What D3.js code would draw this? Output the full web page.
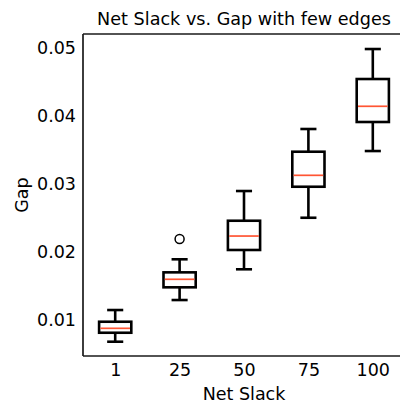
<!DOCTYPE html>
<html>
<head>
<meta charset="utf-8">
<script src="https://cdn.jsdelivr.net/npm/d3@7"></script>
<style>
  html, body { margin: 0; padding: 0; background: #fff; }
  svg { display: block; font-family: "DejaVu Sans", sans-serif; }
</style>
</head>
<body>
<svg id="chart" width="400" height="405"></svg>
<script>
// Box statistics per Net Slack setting
const categories = ["1", "25", "50", "75", "100"];
const whiskerLow  = [0.00681, 0.01294, 0.01746, 0.02504, 0.03485];
const q1          = [0.00813, 0.01481, 0.02030, 0.02960, 0.03912];
const medians     = [0.00878, 0.01599, 0.02235, 0.03128, 0.04143];
const q3          = [0.00975, 0.01701, 0.02460, 0.03475, 0.04544];
const whiskerHigh = [0.01147, 0.01893, 0.02897, 0.03809, 0.04985];
const fliers      = [[], [0.02191], [], [], []];
const yTicks = [0.01, 0.02, 0.03, 0.04, 0.05];

const svg = d3.select("#chart");
const plotLeft = 83, plotRight = 405, plotTop = 34, plotBottom = 356;

// positions 1..5 with half-unit padding on each side
const x = d3.scaleLinear().domain([0.5, 5.5]).range([plotLeft, plotRight]);
const y = d3.scaleLinear().domain([0.00471, 0.05206]).range([plotBottom, plotTop]);
const unit = x(2) - x(1);
const boxW = unit * 0.5;
const capW = boxW * 0.5;

const boxes = categories.map((c, i) => ({
  c, pos: i + 1,
  lo: whiskerLow[i], q1: q1[i], med: medians[i], q3: q3[i], hi: whiskerHigh[i],
  fl: fliers[i]
}));

const g = svg.append("g");
const b = g.selectAll("g.box").data(boxes).join("g").attr("class", "box");
const sw = 2.6;

// whiskers
b.append("line").attr("x1", d => x(d.pos)).attr("x2", d => x(d.pos))
  .attr("y1", d => y(d.q3)).attr("y2", d => y(d.hi))
  .attr("stroke", "#000").attr("stroke-width", sw);
b.append("line").attr("x1", d => x(d.pos)).attr("x2", d => x(d.pos))
  .attr("y1", d => y(d.q1)).attr("y2", d => y(d.lo))
  .attr("stroke", "#000").attr("stroke-width", sw);
// caps
b.append("line").attr("x1", d => x(d.pos) - capW / 2).attr("x2", d => x(d.pos) + capW / 2)
  .attr("y1", d => y(d.hi)).attr("y2", d => y(d.hi))
  .attr("stroke", "#000").attr("stroke-width", sw);
b.append("line").attr("x1", d => x(d.pos) - capW / 2).attr("x2", d => x(d.pos) + capW / 2)
  .attr("y1", d => y(d.lo)).attr("y2", d => y(d.lo))
  .attr("stroke", "#000").attr("stroke-width", sw);
// box
b.append("rect").attr("x", d => x(d.pos) - boxW / 2).attr("width", boxW)
  .attr("y", d => y(d.q3)).attr("height", d => y(d.q1) - y(d.q3))
  .attr("fill", "none").attr("stroke", "#000").attr("stroke-width", sw);
// median
b.append("line").attr("x1", d => x(d.pos) - boxW / 2 + 1.3).attr("x2", d => x(d.pos) + boxW / 2 - 1.3)
  .attr("y1", d => y(d.med)).attr("y2", d => y(d.med))
  .attr("stroke", "#ff5533").attr("stroke-width", 1.7);
// outliers
b.selectAll("circle").data(d => d.fl.map(v => ({ pos: d.pos, v })))
  .join("circle").attr("cx", d => x(d.pos)).attr("cy", d => y(d.v)).attr("r", 4.5)
  .attr("fill", "none").attr("stroke", "#000").attr("stroke-width", 1.5);

// spines
function spine(x1, y1, x2, y2) {
  svg.append("line").attr("x1", x1).attr("y1", y1).attr("x2", x2).attr("y2", y2)
    .attr("stroke", "#1a1a1a").attr("stroke-width", 1.7);
}
spine(plotLeft, plotTop, plotLeft, plotBottom);
spine(plotLeft, plotBottom, 400, plotBottom);
spine(plotLeft, plotTop, 400, plotTop);

// axes (labels only, no tick marks)
const yAxis = svg.append("g").attr("transform", `translate(${plotLeft},0)`)
  .call(d3.axisLeft(y).tickValues(yTicks).tickFormat(d3.format(".2f")).tickSize(0).tickPadding(7));
yAxis.select(".domain").remove();
yAxis.selectAll("text").attr("font-size", 17.5).attr("font-family", "DejaVu Sans").attr("fill", "#000");

const xAxis = svg.append("g").attr("transform", `translate(0,${plotBottom})`)
  .call(d3.axisBottom(x).tickValues(boxes.map(d => d.pos)).tickFormat((d, i) => categories[i]).tickSize(0).tickPadding(8));
xAxis.select(".domain").remove();
xAxis.selectAll("text").attr("font-size", 17.5).attr("font-family", "DejaVu Sans").attr("fill", "#000");

// title and axis labels
svg.append("text").attr("x", 244).attr("y", 25).attr("text-anchor", "middle")
  .attr("font-size", 17.6).text("Net Slack vs. Gap with few edges");
svg.append("text").attr("x", 244).attr("y", 400).attr("text-anchor", "middle")
  .attr("font-size", 17.5).text("Net Slack");
svg.append("text").attr("transform", `translate(28,195) rotate(-90)`).attr("text-anchor", "middle")
  .attr("font-size", 17.5).text("Gap");
</script>
</body>
</html>
